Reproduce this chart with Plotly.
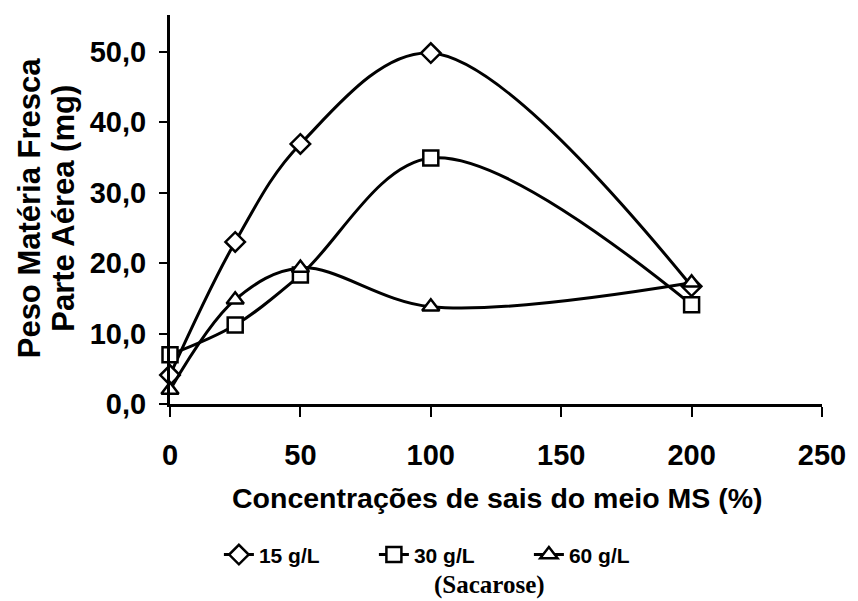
import plotly.graph_objects as go

concentracoes = [0, 25, 50, 100, 200]
peso_15 = [4.1, 23.0, 36.9, 49.8, 16.7]
peso_30 = [7.0, 11.2, 18.3, 34.9, 14.1]
peso_60 = [2.0, 14.8, 19.3, 13.8, 17.2]

y_ticks = [0, 10, 20, 30, 40, 50]
y_ticktext = ["0,0", "10,0", "20,0", "30,0", "40,0", "50,0"]
x_ticks = [0, 50, 100, 150, 200, 250]

FONT = "Liberation Sans, Arial, sans-serif"

fig = go.Figure()
series = [
    ("15 g/L", peso_15, "diamond"),
    ("30 g/L", peso_30, "square"),
    ("60 g/L", peso_60, "triangle-up"),
]
for name, vals, sym in series:
    fig.add_trace(go.Scatter(
        x=concentracoes, y=vals, name=name, mode="lines+markers",
        line=dict(color="black", width=3, shape="spline", smoothing=1.0),
        marker=dict(symbol=sym, size=15, color="white",
                    line=dict(color="black", width=2.5)),
        cliponaxis=False,
    ))

fig.update_layout(
    width=858, height=601,
    margin=dict(l=170, r=25, t=15, b=197),
    paper_bgcolor="white", plot_bgcolor="white",
    font=dict(family=FONT, color="black"),
    xaxis=dict(range=[0, 250], tickvals=x_ticks, showgrid=False, zeroline=False,
               showline=True, linecolor="black", linewidth=3,
               ticks="outside", ticklen=10, tickwidth=2, tickcolor="black",
               ticklabelstandoff=13,
               tickfont=dict(size=29, family=FONT, weight="bold")),
    yaxis=dict(range=[0, 55.2], tickvals=y_ticks, ticktext=y_ticktext,
               showgrid=False, zeroline=False,
               showline=True, linecolor="black", linewidth=3,
               ticks="outside", ticklen=8, tickwidth=2, tickcolor="black",
               ticklabelstandoff=7,
               tickfont=dict(size=29, family=FONT, weight="bold")),
    showlegend=True,
    legend=dict(orientation="h", x=0.075, y=-0.388, xanchor="left", yanchor="middle",
                font=dict(size=21, family=FONT, weight="bold"),
                bgcolor="rgba(0,0,0,0)", tracegroupgap=0,
                entrywidth=110, itemwidth=30),
)

fig.add_annotation(text="Concentrações de sais do meio MS (%)", xref="paper", yref="paper",
                   x=0.502, y=-0.2416, xanchor="center", yanchor="middle", showarrow=False,
                   font=dict(size=28.5, family=FONT, weight="bold"))
fig.add_annotation(text="Peso Matéria Fresca", xref="paper", yref="paper",
                   x=-0.2142, y=0.504, xanchor="center", yanchor="middle", showarrow=False,
                   textangle=-90, font=dict(size=31, family=FONT, weight="bold"))
fig.add_annotation(text="Parte Aérea (mg)", xref="paper", yref="paper",
                   x=-0.1629, y=0.504, xanchor="center", yanchor="middle", showarrow=False,
                   textangle=-90, font=dict(size=31, family=FONT, weight="bold"))
fig.add_annotation(text="(Sacarose)", xref="paper", yref="paper",
                   x=0.490, y=-0.4653, xanchor="center", yanchor="middle", showarrow=False,
                   font=dict(size=25, family="Liberation Serif, Times New Roman, serif", weight="bold"))

fig.write_html("out.html")
